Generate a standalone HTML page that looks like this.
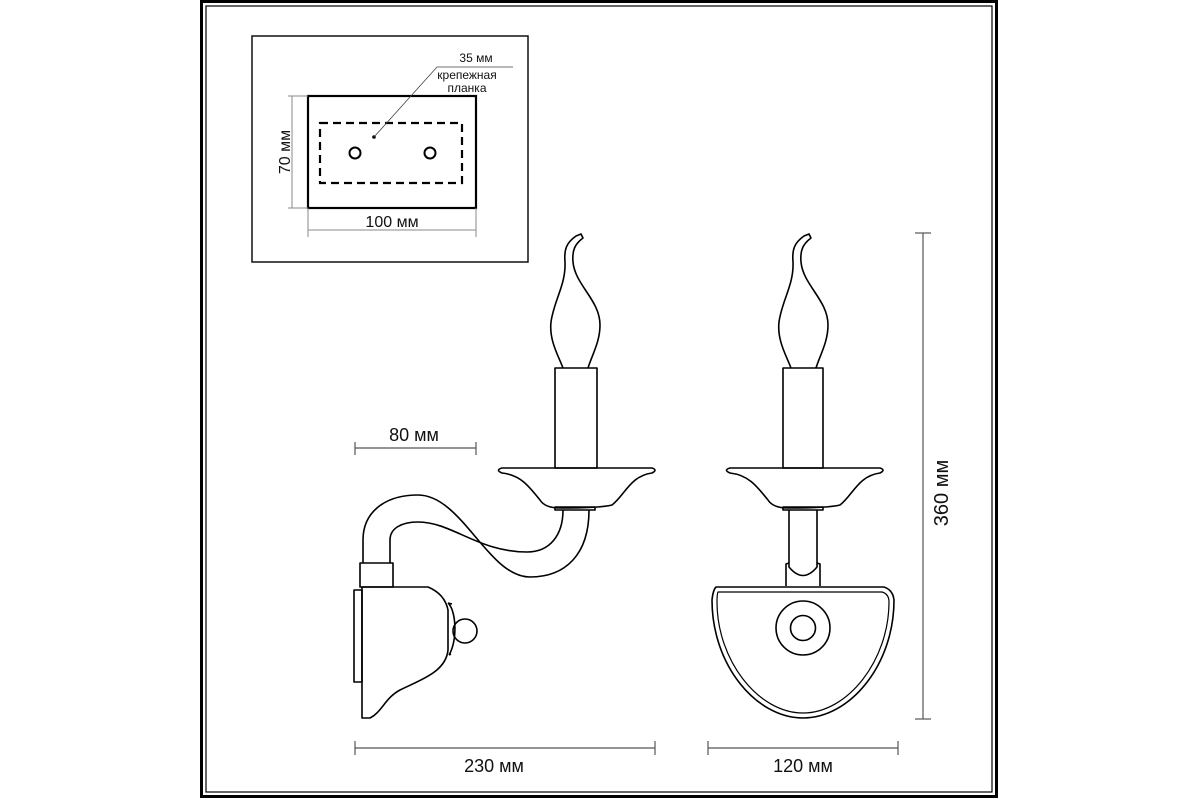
<!DOCTYPE html>
<html><head><meta charset="utf-8"><style>
html,body{margin:0;padding:0;background:#fff;}
svg{display:block;}
text{font-family:"Liberation Sans",sans-serif;fill:#111;}
</style></head><body>
<svg width="1200" height="800" viewBox="0 0 1200 800" xmlns="http://www.w3.org/2000/svg">
<rect x="0" y="0" width="1200" height="800" fill="#fff"/>
<rect x="201.5" y="1.5" width="795" height="795" fill="none" stroke="#000" stroke-width="3"/>
<rect x="206" y="6" width="786" height="786" fill="none" stroke="#000" stroke-width="1.2"/>

<!-- inset -->
<rect x="252" y="36" width="276" height="226" fill="none" stroke="#111" stroke-width="1.5"/>
<rect x="308" y="96" width="168" height="112" fill="none" stroke="#000" stroke-width="2.2"/>
<rect x="320" y="123" width="142" height="60" fill="none" stroke="#000" stroke-width="2.2" stroke-dasharray="8,5"/>
<circle cx="355" cy="153" r="5.5" fill="none" stroke="#000" stroke-width="2"/>
<circle cx="430" cy="153" r="5.5" fill="none" stroke="#000" stroke-width="2"/>
<circle cx="374" cy="137" r="1.8" fill="#000"/>
<polyline points="374,137 437,67 513,67" fill="none" stroke="#444" stroke-width="0.8"/>
<text x="476" y="62" font-size="12" text-anchor="middle">35 мм</text>
<text x="467" y="79" font-size="12" text-anchor="middle">крепежная</text>
<text x="467" y="92" font-size="12" text-anchor="middle">планка</text>
<g stroke="#888" stroke-width="1">
<line x1="292" y1="96" x2="292" y2="208"/><line x1="288" y1="96" x2="308" y2="96"/><line x1="288" y1="208" x2="308" y2="208"/>
<line x1="308" y1="230" x2="476" y2="230"/><line x1="308" y1="208" x2="308" y2="237"/><line x1="476" y1="208" x2="476" y2="237"/>
</g>
<text x="392" y="227" font-size="16" text-anchor="middle">100 мм</text>
<text transform="translate(290,152) rotate(-90)" font-size="16" text-anchor="middle">70 мм</text>

<g fill="none" stroke="#000" stroke-width="1.6" stroke-linejoin="round">
<!-- LEFT LAMP -->
<path d="M563,368 C558,355 549,340 551,322 C554,300 566,285 565,262 C564,250 566,243 576,236 L581,234 L583,238 C575,244 572,250 573,262 C575,285 600,300 600,325 C600,342 592,355 588,368"/>
<rect x="555" y="368" width="42" height="100"/>
<path d="M555,507 L595,507 L595,510 L555,510 Z"/>
<path d="M502,468 L652,468 Q658,470 652,473 C630,476 625,495 612,505 Q600,508 560,508 Q545,508 540,500 C528,485 520,475 502,473 Q495,470 502,468 Z"/>
<path d="M363,563 L363,540 C363,512 385,495 418,495 C462,495 488,577 530,577 C565,577 589,555 589,510"/>
<path d="M390,563 L390,540 C390,528 402,522 418,522 C452,522 478,552 527,552 C550,552 563,535 563,510"/>
<rect x="360" y="563" width="33" height="24"/>
<rect x="354" y="590" width="8" height="92"/>
<path d="M362,587 L428,587 C440,592 446,600 448,610 L448,650 C446,672 420,680 400,690 C385,698 382,712 370,718 L362,718 Z"/>
<path d="M448,603 C456,610 458,640 449,655"/>
<path d="M448,603 L452,604 M449,655 L451,654"/>
<circle cx="465" cy="631" r="12"/>

<!-- RIGHT LAMP -->
<g transform="translate(228,0)">
<path d="M563,368 C558,355 549,340 551,322 C554,300 566,285 565,262 C564,250 566,243 576,236 L581,234 L583,238 C575,244 572,250 573,262 C575,285 600,300 600,325 C600,342 592,355 588,368"/>
<rect x="555" y="368" width="40" height="100"/>
</g>
<path d="M783,507 L823,507 L823,510 L783,510 Z"/>
<path d="M730,468 L880,468 Q886,470 880,473 C858,476 853,495 840,505 Q828,508 788,508 Q773,508 768,500 C756,485 748,475 730,473 Q723,470 730,468 Z"/>
<path d="M789,510 L789,567 Q803,584 817,567 L817,510"/>
<path d="M786,586 L786,564 L789,563 M817,563 L820,564 L820,586"/>
<path d="M716,587 L884,587 Q893,590 894,600 C894,665 850,718 803,718 C756,718 712,665 712,600 Q713,590 716,587 Z"/>
<path d="M718,592 L882,592 Q889,594 889,602 C889,660 848,713 803,713 C758,713 717,660 717,602 Q717,594 718,592 Z" stroke-width="1.2"/>
<circle cx="803" cy="628" r="27"/>
<circle cx="803" cy="628" r="12.5"/>
</g>

<!-- dimensions -->
<g stroke="#555" stroke-width="1.2">
<line x1="355" y1="448" x2="476" y2="448"/><line x1="355" y1="442" x2="355" y2="455"/><line x1="476" y1="442" x2="476" y2="455"/>
<line x1="355" y1="748" x2="655" y2="748"/><line x1="355" y1="741" x2="355" y2="755"/><line x1="655" y1="741" x2="655" y2="755"/>
<line x1="708" y1="748" x2="898" y2="748"/><line x1="708" y1="741" x2="708" y2="755"/><line x1="898" y1="741" x2="898" y2="755"/>
<line x1="923" y1="233" x2="923" y2="719"/><line x1="915" y1="233" x2="931" y2="233"/><line x1="915" y1="719" x2="931" y2="719"/>
</g>
<text x="414" y="441" font-size="18" text-anchor="middle">80 мм</text>
<text x="494" y="772" font-size="18" text-anchor="middle">230 мм</text>
<text x="803" y="772" font-size="18" text-anchor="middle">120 мм</text>
<text transform="translate(948,493) rotate(-90)" font-size="20" text-anchor="middle">360 мм</text>
</svg>
</body></html>
